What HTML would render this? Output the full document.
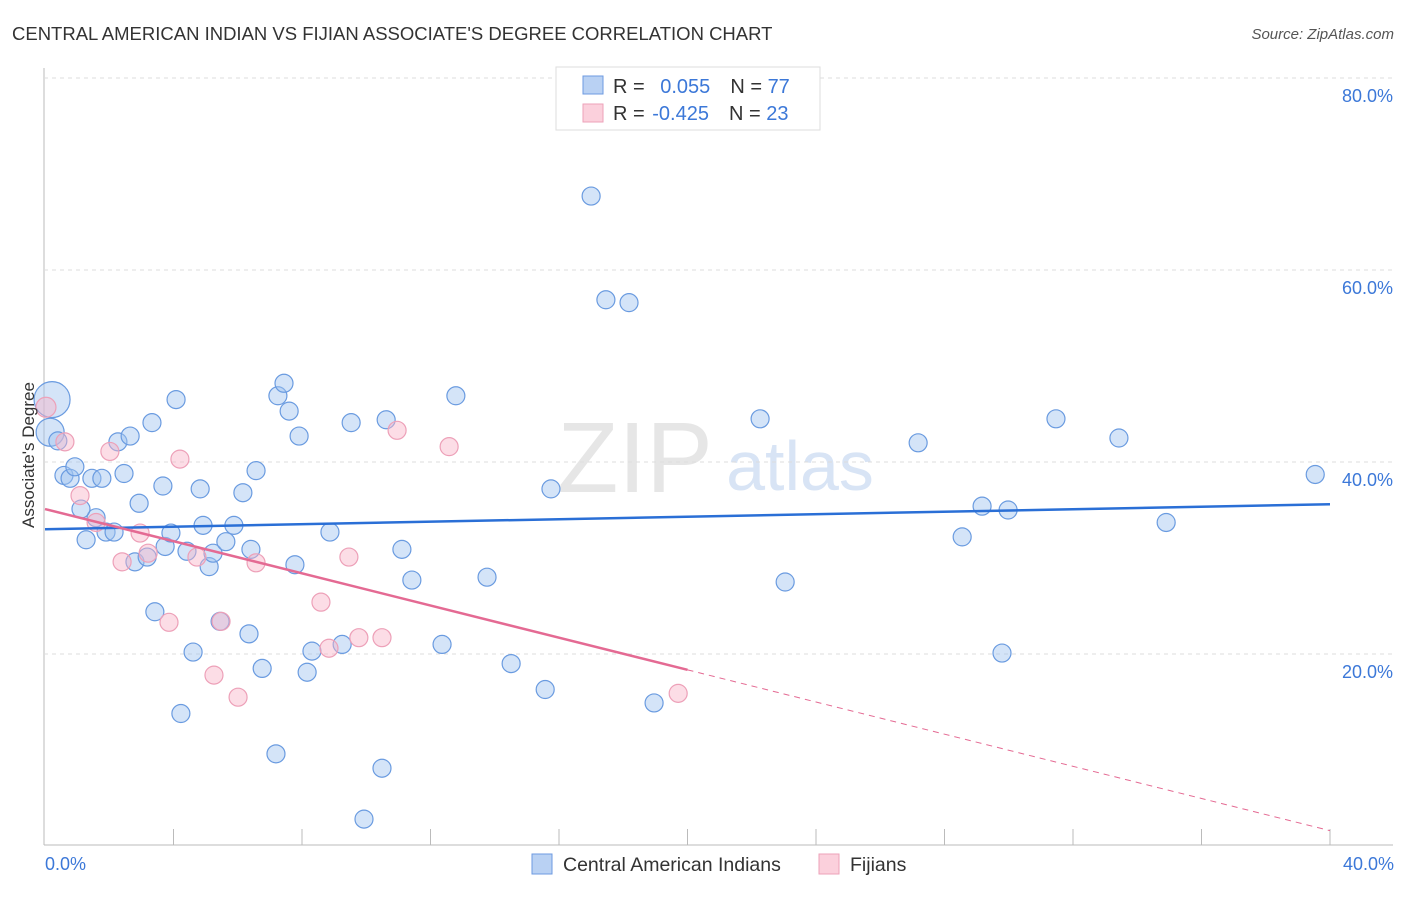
<!DOCTYPE html>
<html><head><meta charset="utf-8"><style>
body{margin:0;background:#fff;font-family:"Liberation Sans",sans-serif;}
svg text{font-family:"Liberation Sans",sans-serif;}
</style></head><body>
<svg id="c" width="1406" height="892">
<text x="12" y="40" font-size="18.5" fill="#333">CENTRAL AMERICAN INDIAN VS FIJIAN ASSOCIATE'S DEGREE CORRELATION CHART</text>
<text x="1394" y="39" font-size="15" fill="#555" text-anchor="end" font-style="italic">Source: ZipAtlas.com</text>
<text x="635" y="492" font-size="100" fill="#e6e6e6" font-family="Liberation Serif" text-anchor="middle">ZIP</text>
<text x="800" y="490" font-size="70" fill="#d8e4f5" text-anchor="middle">atlas</text>
<g id="grid"></g><g id="pts"></g><g id="lines"></g>
<text x="34" y="455" font-size="17" fill="#333" text-anchor="middle" transform="rotate(-90 34 455)">Associate's Degree</text>
<text x="45" y="870" font-size="18" fill="#3c78d8">0.0%</text>
<text x="1394" y="870" font-size="18" fill="#3c78d8" text-anchor="end">40.0%</text>
<g>
<rect x="556" y="67" width="264" height="63" fill="#fff" stroke="#ddd"/>
<rect x="583" y="76" width="20" height="18" fill="#b9d1f3" stroke="#6d9ae0"/>
<rect x="583" y="104" width="20" height="18" fill="#fbd0dc" stroke="#eca2b9"/>
<text x="613" y="93" font-size="20" fill="#333">R = <tspan fill="#3c78d8" dx="10">0.055</tspan><tspan dx="20" fill="#333">N = </tspan><tspan fill="#3c78d8">77</tspan></text>
<text x="613" y="120" font-size="20" fill="#333">R = <tspan fill="#3c78d8" dx="2">-0.425</tspan><tspan dx="20" fill="#333">N = </tspan><tspan fill="#3c78d8">23</tspan></text>
</g>
<g>
<rect x="532" y="854" width="20" height="20" fill="#b9d1f3" stroke="#6d9ae0"/>
<text x="563" y="871" font-size="19.5" fill="#333">Central American Indians</text>
<rect x="819" y="854" width="20" height="20" fill="#fbd0dc" stroke="#eca2b9"/>
<text x="850" y="871" font-size="19.5" fill="#333">Fijians</text>
</g>
</svg>
<script>
const yTicks=[20,40,60,80];
const xTicksCount=10;
const blueX=[0.22,0.16,0.40,0.59,0.78,0.93,1.46,1.77,1.59,1.12,1.28,1.90,2.15,2.27,2.46,2.65,2.93,2.80,3.18,3.33,3.42,3.67,3.74,3.92,4.08,4.23,4.42,4.61,4.83,4.92,5.11,5.23,5.45,5.63,5.88,6.16,6.35,6.41,6.57,6.76,7.19,7.25,7.44,7.60,7.78,7.91,8.16,8.31,8.87,9.25,9.53,9.93,10.49,10.62,11.11,11.42,12.36,12.79,13.76,14.51,15.57,15.75,17.00,17.46,18.18,18.96,22.26,23.04,27.18,28.55,29.17,29.79,29.98,31.47,33.43,34.90,39.54];
const blueY=[46.5,43.1,42.2,38.6,38.3,39.5,38.3,38.3,34.2,35.1,31.9,32.7,32.7,42.1,38.8,42.7,35.7,29.6,30.1,44.1,24.4,37.5,31.2,32.6,46.5,13.8,30.7,20.2,37.2,33.4,29.1,30.5,23.4,31.7,33.4,36.8,22.1,30.9,39.1,18.5,9.6,46.9,48.2,45.3,29.3,42.7,18.1,20.3,32.7,21.0,44.1,2.8,8.1,44.4,30.9,27.7,21.0,46.9,28.0,19.0,16.3,37.2,67.7,56.9,56.6,14.9,44.5,27.5,42.0,32.2,35.4,20.1,35.0,44.5,42.5,33.7,38.7];
const blueR=[18,14];
const pinkX=[0.03,0.62,1.09,1.59,2.02,2.40,2.96,3.21,3.86,4.20,4.73,5.26,5.48,6.01,6.57,8.59,8.84,9.46,9.77,10.49,10.96,12.58,19.71];
const pinkY=[45.7,42.1,36.5,33.7,41.1,29.6,32.6,30.5,23.3,40.3,30.1,17.8,23.4,15.5,29.5,25.4,20.6,30.1,21.7,21.7,43.3,41.6,15.9];
const blueTrend=[33.0,35.6];
const pinkTrend=[35.1,1.6];
const pinkSolidEnd=20;
const X=v=>45+v/40*1285, Y=v=>846-v/20*192;
const NS='http://www.w3.org/2000/svg';
function mk(t,a,p){const e=document.createElementNS(NS,t);for(const k in a)e.setAttribute(k,a[k]);p.appendChild(e);return e;}
const g=document.getElementById('grid');
const ax=mk('line',{x1:44,y1:68,x2:44,y2:845,stroke:'#bbb'},g);

const bx=mk('line',{x1:44,y1:845,x2:1393,y2:845,stroke:'#bbb'},g);

yTicks.forEach(t=>{const l=mk('line',{x1:44,y1:Y(t),x2:1393,y2:Y(t),stroke:'#ddd','stroke-dasharray':'4,4'},g);

const tx=mk('text',{x:1393,y:Y(t)+24,'font-size':18,fill:'#3c78d8','text-anchor':'end'},g);tx.textContent=t.toFixed(1)+'%';
});
for(let i=1;i<=xTicksCount;i++){const l=mk('line',{x1:X(i*4),y1:829,x2:X(i*4),y2:845,stroke:'#bbb'},g);
}
const p=document.getElementById('pts');
blueX.forEach((v,i)=>{const c=mk('circle',{cx:X(v),cy:Y(blueY[i]),r:blueR[i]||9,fill:'rgba(160,195,240,0.45)',stroke:'#6a9be0','stroke-width':1.2},p);
});
pinkX.forEach((v,i)=>{const c=mk('circle',{cx:X(v),cy:Y(pinkY[i]),r:i==0?10:9,fill:'rgba(248,180,200,0.45)',stroke:'#eda0b8','stroke-width':1.2},p);
});
const L=document.getElementById('lines');
const b=mk('line',{x1:X(0),y1:Y(blueTrend[0]),x2:X(40),y2:Y(blueTrend[1]),stroke:'#2a6fd6','stroke-width':2.5},L);

const pf=x=>pinkTrend[0]+(pinkTrend[1]-pinkTrend[0])*x/40;
const a=mk('line',{x1:X(0),y1:Y(pf(0)),x2:X(pinkSolidEnd),y2:Y(pf(pinkSolidEnd)),stroke:'#e46a93','stroke-width':2.5},L);

const d=mk('line',{x1:X(pinkSolidEnd),y1:Y(pf(pinkSolidEnd)),x2:X(40),y2:Y(pf(40)),stroke:'#e46a93','stroke-width':1,'stroke-dasharray':'6,5'},L);

</script>
</body></html>
